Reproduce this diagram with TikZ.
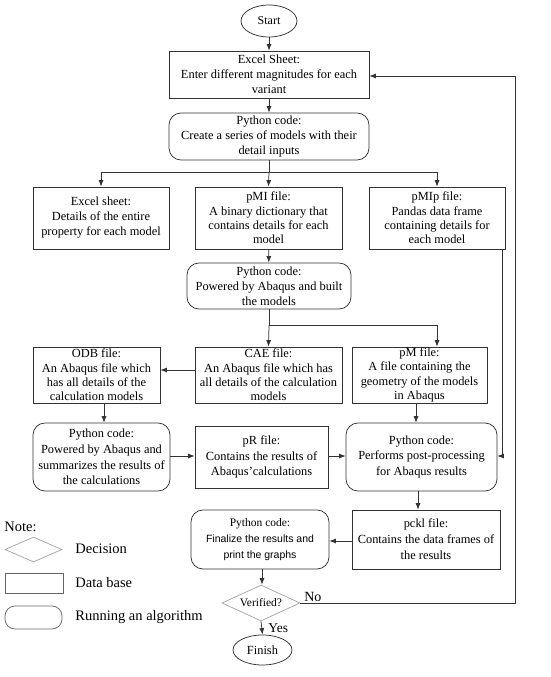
\documentclass[tikz,border=0pt]{standalone}
\usepackage{fontspec}
\setmainfont{Liberation Serif}
\newfontfamily\arialfont{Liberation Sans}
\usetikzlibrary{shapes.geometric,arrows.meta,calc}
\begin{document}
\begin{tikzpicture}[x=1pt,y=-1pt,
  font=\fontsize{12.4}{15}\selectfont,
  line width=0.75pt,
  base/.style={draw=black!80, align=center, inner sep=0pt},
  four/.style={font=\fontsize{12.4}{14.4}\selectfont},
  dbox/.style={base, rectangle},
  rbox/.style={base, rectangle, rounded corners=12pt},
  arr/.style={draw=black!80, -{Latex[length=6.5pt,width=5pt]}},
  ln/.style={draw=black!80},
  lgtext/.style={anchor=west, inner sep=0pt, font=\fontsize{14.5}{16}\selectfont}]
\useasboundingbox (0,0) rectangle (550,677);

\node[base, ellipse, minimum width=56pt, minimum height=32pt, font=\fontsize{12}{14}\selectfont] (start) at (269,21) {Start};
\node[dbox, minimum width=200pt, minimum height=47pt] (excel) at (269,74.5) {Excel Sheet:\\Enter different magnitudes for each\\variant};
\node[rbox, minimum width=200pt, minimum height=47pt] (py1) at (269,136.5) {Python code:\\Create a series of models with their\\detail inputs};

\node[dbox, minimum width=136pt, minimum height=62pt] (xls2) at (101,218) {Excel sheet:\\Details of the entire\\property for each model};
\node[dbox, four, minimum width=147pt, minimum height=62pt] (pmi) at (268.5,218) {pMI file:\\A binary dictionary that\\contains details for each\\model};
\node[dbox, four, minimum width=136pt, minimum height=62pt] (pmip) at (437,218) {pMIp file:\\Pandas data frame\\containing details for\\each model};

\node[rbox, minimum width=164pt, minimum height=46pt] (py2) at (269,286) {Python code:\\Powered by Abaqus and built\\the models};

\node[dbox, four, minimum width=127pt, minimum height=56pt] (odb) at (96.5,375) {ODB file:\\An Abaqus file which\\has all details of the\\calculation models};
\node[dbox, four, minimum width=147pt, minimum height=56pt] (cae) at (268.5,375) {CAE file:\\An Abaqus file which has\\all details of the calculation\\models};
\node[dbox, four, minimum width=135pt, minimum height=56pt] (pm) at (419.5,375) {pM file:\\A file containing the\\geometry of the models\\in Abaqus};

\node[rbox, minimum width=137pt, minimum height=68pt, font=\fontsize{12.4}{15.8}\selectfont] (py3) at (101.5,457) {Python code:\\Powered by Abaqus and\\summarizes the results of\\the calculations};
\node[dbox, minimum width=133pt, minimum height=62pt, font=\fontsize{12.4}{15.8}\selectfont] (pr) at (261.5,457) {pR file:\\Contains the results of\\Abaqus'calculations};
\node[rbox, minimum width=151pt, minimum height=68pt, font=\fontsize{12.4}{15.8}\selectfont] (py4) at (421.5,457) {Python code:\\Performs post-processing\\for Abaqus results};

\node[rbox, minimum width=138pt, minimum height=59pt, font=\arialfont\fontsize{10.5}{16}\selectfont] (py5) at (260,539.5) {{\rmfamily\fontsize{11.5}{16}\selectfont Python code:}\\Finalize the results and\\print the graphs};
\node[dbox, minimum width=148pt, minimum height=59pt, font=\fontsize{12.4}{16}\selectfont] (pckl) at (426,539.5) {pckl file:\\Contains the data frames of\\the results};

\node[base, draw=black!35, diamond, minimum width=78pt, minimum height=36pt, aspect=2.2, font=\fontsize{11.5}{13}\selectfont] (ver) at (261,603) {Verified?};
\node[base, ellipse, minimum width=59pt, minimum height=30pt, font=\fontsize{12.4}{14}\selectfont] (fin) at (262.5,650) {Finish};

% legend
\node[lgtext] (note) at (4,527) {Note:};
\node[base, draw=black!35, diamond, minimum width=57pt, minimum height=25pt, aspect=2.3] (lgd) at (33.5,549.5) {};
\node[lgtext] (lgdt) at (75,549) {Decision};
\node[base, draw=black!60, rectangle, minimum width=58pt, minimum height=20pt] (lgr) at (34,583) {};
\node[lgtext] (lgrt) at (75,583) {Data base};
\node[base, draw=black!60, rectangle, rounded corners=10pt, minimum width=57pt, minimum height=23pt] (lgo) at (33.5,617.5) {};
\node[lgtext] (lgot) at (75,617) {Running an algorithm};

% helper coordinates
\coordinate (b1) at (269,172);
\coordinate (b2) at (269,325);
\coordinate (xpm) at (437,0);
\coordinate (x104) at (104,0);
\coordinate (x416) at (416,0);
\coordinate (x418) at (418,0);
\coordinate (x262) at (262,0);
\coordinate (x502) at (502,0);
\coordinate (y456) at (0,456);
\coordinate (y541) at (0,541);
\coordinate (y76) at (0,76);
\coordinate (rt) at (515,603);
\coordinate (rtt) at (515,76);

% connectors
\draw[arr] (start) -- (excel);
\draw[arr] (excel) -- (py1);
\draw[ln] (py1.south) -- (b1);
\draw[arr] (b1) -| (xls2.north);
\draw[arr] (b1) -- (pmi.north);
\draw[arr] (b1) -| (pmip.north);
\draw[arr] (pmi) -- (py2);
\draw[ln] (py2.south) -- (b2);
\draw[arr] (b2) -- (cae.north);
\draw[arr] (b2) -| (pm.north -| xpm);
\draw[arr] ([yshift=5pt]cae.west) -- ([yshift=5pt]odb.east);
\draw[arr] (odb.south -| x104) -- (py3.north -| x104);
\draw[arr] (pm.south -| x416) -- (py4.north -| x416);
\draw[arr] (py3.east |- y456) -- (pr.west |- y456);
\draw[arr] (pr.east |- y456) -- (py4.west |- y456);
\draw[arr] (pmip.south -| x502) -- (x502 |- y456) -- (py4.east |- y456);
\draw[arr] (py4.south -| x418) -- (pckl.north -| x418);
\draw[arr] (pckl.west |- y541) -- (py5.east |- y541);
\draw[arr] (py5.south -| x262) -- (ver.north -| x262);
\draw[arr] (ver.east) -- (rt) -- (rtt) -- (excel.east |- y76);
\draw[arr] (ver.south) -- (fin.north);
\node[anchor=south west, inner sep=1pt, font=\fontsize{14}{16}\selectfont] (nolbl) at (303,603) {No};
\node[anchor=west, inner sep=1pt, font=\fontsize{13.5}{16}\selectfont] (yeslbl) at (267,628) {Yes};
\end{tikzpicture}
\end{document}
